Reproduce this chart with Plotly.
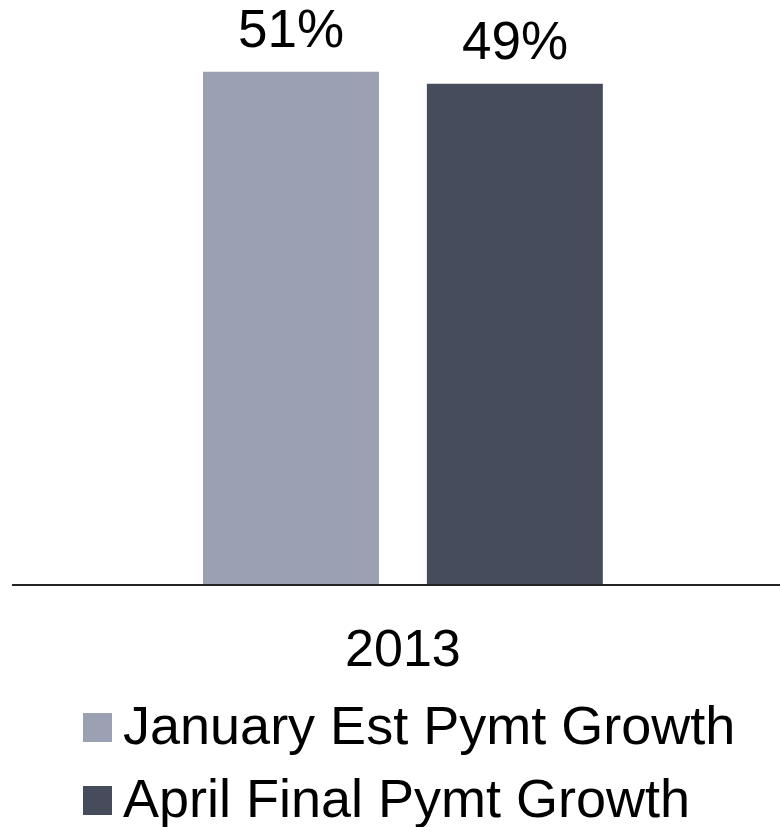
import plotly.graph_objects as go

categories = ["2013"]
series_names = ["January Est Pymt Growth", "April Final Pymt Growth"]
series_values = [[50.6], [49.4]]
series_colors = ["#9BA1B3", "#464C5C"]

FONT = "Liberation Sans, Arial, sans-serif"
W, H = 780, 827
ML, MR, MT, MB = 12, 0, 20, 243
PW = W - ML - MR
PH = H - MT - MB
YMAX = 55.7


def px_to_paper(px, py):
    return (px - ML) / PW, (H - MB - py) / PH


fig = go.Figure()
for name, vals, col in zip(series_names, series_values, series_colors):
    fig.add_trace(go.Bar(
        x=categories, y=vals, name=name, marker_color=col,
        marker_line_width=0, showlegend=False,
    ))

# value labels above the bars
offsets = [-112, 112]
for vals, dx in zip(series_values, offsets):
    for i, v in enumerate(vals):
        fig.add_annotation(
            x=i, y=v, xref="x", yref="y", text=f"{v:.0f}%", showarrow=False,
            xshift=dx, yshift=12, yanchor="bottom",
            font=dict(family=FONT, size=53, color="black"),
        )

# custom legend (large square swatches)
legend_rows = [727.5, 800.5]
for name, col, cy in zip(series_names, series_colors, legend_rows):
    x0, y0 = px_to_paper(83, cy + 14.5)
    x1, y1 = px_to_paper(112, cy - 14.5)
    fig.add_shape(type="rect", xref="paper", yref="paper",
                  x0=x0, x1=x1, y0=y0, y1=y1,
                  fillcolor=col, line_width=0)
    tx, ty = px_to_paper(121, cy - 3)
    fig.add_annotation(
        x=tx, y=ty, xref="paper", yref="paper", text=name,
        showarrow=False, xanchor="left", yanchor="middle",
        font=dict(family=FONT, size=54, color="black"),
    )

fig.update_layout(
    width=W, height=H,
    margin=dict(l=ML, r=MR, t=MT, b=MB, pad=0),
    paper_bgcolor="white", plot_bgcolor="white",
    barmode="group", bargap=0.417, bargroupgap=0.214,
    font=dict(family=FONT, color="black"),
    xaxis=dict(
        type="category", range=[-0.509, 0.491],
        showline=True, linecolor="#222222", linewidth=2,
        showgrid=False, ticks="", zeroline=False,
        tickfont=dict(family=FONT, size=52, color="black"),
        ticklabelstandoff=18,
    ),
    yaxis=dict(
        range=[0, YMAX], visible=False, showgrid=False, zeroline=False,
    ),
)

fig.write_html("out.html")
